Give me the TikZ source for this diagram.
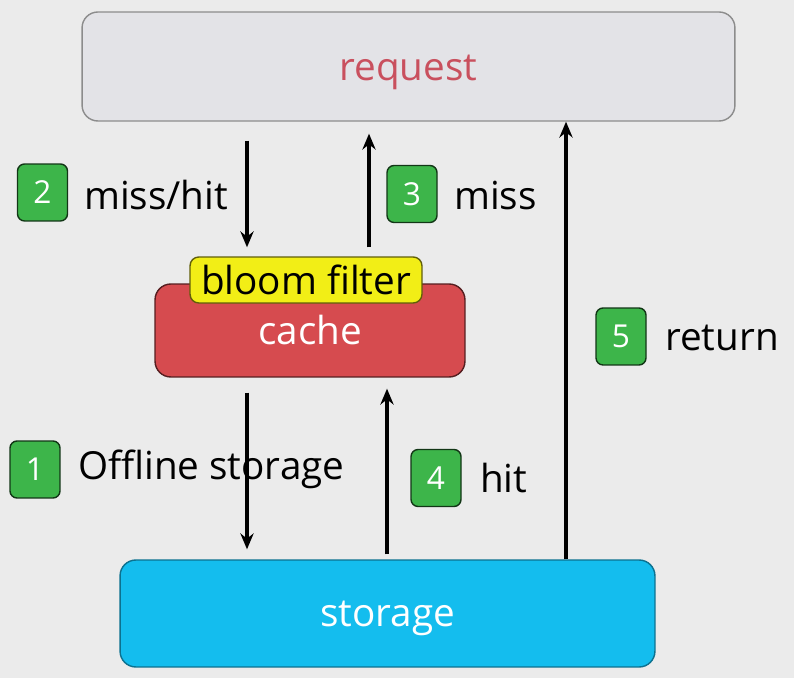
\documentclass[tikz,border=0pt]{standalone}
\usepackage{fontspec}
\setmainfont{Open Sans}
\usetikzlibrary{arrows.meta}
\definecolor{bgcol}{HTML}{EBEBEB}
\definecolor{reqfill}{HTML}{E3E3E7}
\definecolor{reqtext}{HTML}{C9505E}
\definecolor{cachefill}{HTML}{D64B4F}
\definecolor{bloomfill}{HTML}{F2EE16}
\definecolor{storefill}{HTML}{14BDEE}
\definecolor{badgefill}{HTML}{3DB54A}
\tikzset{
  box/.style={rounded corners=9pt, line width=0.8pt, inner sep=0pt},
  badge/.style={rounded corners=4pt, fill=badgefill, draw=black!70!badgefill, line width=0.8pt,
    minimum width=1cm, minimum height=1.14cm, text=white, font=\fontsize{18}{20}\selectfont},
  lbl/.style={anchor=west, font=\fontsize{22}{26}\selectfont},
  arr/.style={-{Stealth[length=9pt,width=7.5pt]}, line width=1.8pt},
}
\begin{document}
\begin{tikzpicture}[x=0.02cm, y=-0.02cm]
  \fill[bgcol] (0,0) rectangle (794,678);
  \useasboundingbox (0,0) rectangle (794,678);

  % boxes
  \node[box, fill=reqfill, draw=black!45, minimum width=13.06cm, minimum height=2.18cm,
    text=reqtext, font=\fontsize{22}{26}\selectfont] (req) at (408.5,66.5) {\raisebox{-3.4pt}[\height][\depth]{request}};
  \node[box, fill=cachefill, draw=black!60!cachefill, minimum width=6.2cm, minimum height=1.86cm,
    text=white, font=\fontsize{22}{26}\selectfont] (cache) at (310,330.5) {cache};
  \node[box, rounded corners=5pt, fill=bloomfill, draw=black!60!bloomfill, minimum width=4.64cm, minimum height=0.92cm,
    font=\fontsize{22}{26}\selectfont] (bloom) at (306,280) {bloom filter};
  \node[box, fill=storefill, draw=black!40!storefill, minimum width=10.7cm, minimum height=2.14cm,
    text=white, font=\fontsize{22}{26}\selectfont] (store) at (387.5,613.5) {\raisebox{-2.8pt}[\height][\depth]{storage}};

  % arrows
  \draw[arr, shorten <=19*0.02cm, shorten >=9*0.02cm] (req.south -| 247,0) -- (bloom.north -| 247,0);
  \draw[arr, shorten <=9*0.02cm, shorten >=12*0.02cm] (bloom.north -| 369,0) -- (req.south -| 369,0);
  \draw[arr, shorten <=15*0.02cm, shorten >=10*0.02cm] (cache.south -| 247,0) -- (store.north -| 247,0);
  \draw[arr, shorten <=5*0.02cm, shorten >=11*0.02cm] (store.north -| 387,0) -- (cache.south -| 387,0);
  \draw[arr] (store.north -| 566,0) -- (req.south -| 566,0);

  % steps
  \node[badge] (s2) at (42.5,192.5) {2};
  \node[lbl] (l2) at (78,195) {miss/hit};
  \node[badge] (s3) at (412,194) {3};
  \node[lbl] (l3) at (448,196) {miss};
  \node[badge] (s5) at (621,336.5) {5};
  \node[lbl] (l5) at (659,338) {return};
  \node[badge] (s1) at (35,469.5) {1};
  \node[lbl] (l1) at (72,469) {Offline storage};
  \node[badge] (s4) at (436,478) {4};
  \node[lbl] (l4) at (474,478) {hit};
\end{tikzpicture}
\end{document}
